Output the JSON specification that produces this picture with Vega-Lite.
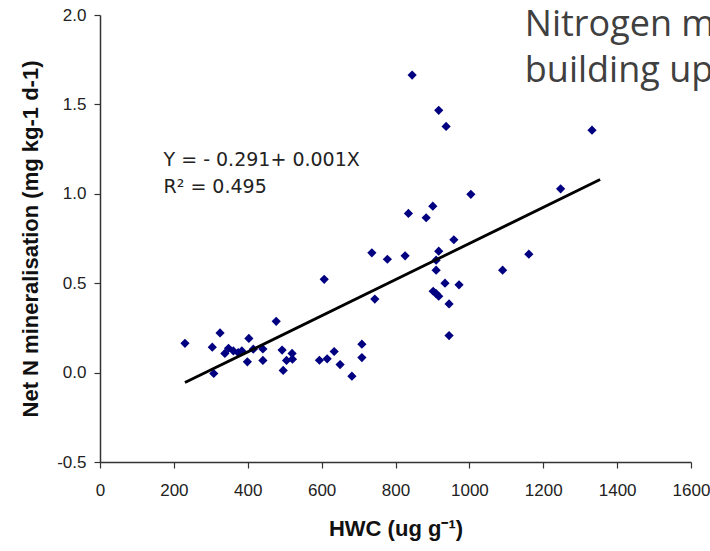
{
  "$schema": "https://vega.github.io/schema/vega-lite/v6.json",
  "autosize": "none",
  "width": 591,
  "height": 447,
  "padding": {"left": 100, "top": 15, "right": 19, "bottom": 89},
  "background": "white",
  "config": {"view": {"stroke": null}},
  "datasets": {
    "pts": [
      {"HWC": 230, "N": 0.164}, {"HWC": 304, "N": 0.142}, {"HWC": 325, "N": 0.222},
      {"HWC": 308, "N": -0.005}, {"HWC": 338, "N": 0.107}, {"HWC": 348, "N": 0.136},
      {"HWC": 361, "N": 0.121}, {"HWC": 374, "N": 0.112}, {"HWC": 384, "N": 0.121},
      {"HWC": 403, "N": 0.191}, {"HWC": 399, "N": 0.060}, {"HWC": 415, "N": 0.131},
      {"HWC": 441, "N": 0.132}, {"HWC": 441, "N": 0.068}, {"HWC": 477, "N": 0.287},
      {"HWC": 493, "N": 0.126}, {"HWC": 496, "N": 0.012}, {"HWC": 505, "N": 0.068},
      {"HWC": 520, "N": 0.107}, {"HWC": 521, "N": 0.075}, {"HWC": 594, "N": 0.069},
      {"HWC": 615, "N": 0.077}, {"HWC": 607, "N": 0.522}, {"HWC": 634, "N": 0.118},
      {"HWC": 650, "N": 0.045}, {"HWC": 682, "N": -0.020}, {"HWC": 709, "N": 0.159},
      {"HWC": 709, "N": 0.084}, {"HWC": 736, "N": 0.670}, {"HWC": 744, "N": 0.411},
      {"HWC": 778, "N": 0.634}, {"HWC": 845, "N": 1.664}, {"HWC": 917, "N": 1.467},
      {"HWC": 937, "N": 1.377}, {"HWC": 1332, "N": 1.356}, {"HWC": 1247, "N": 1.028},
      {"HWC": 1004, "N": 0.997}, {"HWC": 835, "N": 0.890}, {"HWC": 901, "N": 0.931},
      {"HWC": 883, "N": 0.866}, {"HWC": 958, "N": 0.743}, {"HWC": 917, "N": 0.679},
      {"HWC": 910, "N": 0.629}, {"HWC": 826, "N": 0.653}, {"HWC": 910, "N": 0.573},
      {"HWC": 1161, "N": 0.662}, {"HWC": 1090, "N": 0.573}, {"HWC": 934, "N": 0.500},
      {"HWC": 972, "N": 0.491}, {"HWC": 902, "N": 0.455}, {"HWC": 910, "N": 0.442},
      {"HWC": 917, "N": 0.427}, {"HWC": 945, "N": 0.384}, {"HWC": 945, "N": 0.207}
    ],
    "fit": [
      {"HWC": 230, "N": -0.056},
      {"HWC": 1354, "N": 1.080}
    ]
  },
  "layer": [
    {
      "data": {"name": "pts"},
      "mark": {"type": "point", "shape": "diamond", "filled": true, "size": 85, "color": "#000080", "opacity": 1},
      "encoding": {
        "x": {
          "field": "HWC", "type": "quantitative",
          "scale": {"domain": [0, 1600], "nice": false, "zero": false},
          "axis": {
            "title": "HWC (ug g⁻¹)",
            "values": [0, 200, 400, 600, 800, 1000, 1200, 1400, 1600],
            "format": "d",
            "grid": false,
            "domainColor": "#333333", "domainWidth": 1.5,
            "tickColor": "#333333", "tickSize": 6, "tickWidth": 1.2,
            "labelFont": "Liberation Sans", "labelFontSize": 17, "labelColor": "#222222",
            "labelPadding": 14, "labelFlush": false,
            "titleFont": "Liberation Sans", "titleFontSize": 22, "titleFontWeight": "bold",
            "titleColor": "#111111", "titlePadding": 20
          }
        },
        "y": {
          "field": "N", "type": "quantitative",
          "scale": {"domain": [-0.5, 2.0], "nice": false, "zero": false},
          "axis": {
            "title": "Net N mineralisation (mg kg-1 d-1)",
            "values": [-0.5, 0, 0.5, 1.0, 1.5, 2.0],
            "labelExpr": "datum.value < 0 ? '-' + format(-datum.value, '.1f') : format(datum.value, '.1f')",
            "grid": false,
            "domainColor": "#333333", "domainWidth": 1.5,
            "tickColor": "#333333", "tickSize": 6, "tickWidth": 1.2,
            "labelFont": "Liberation Sans", "labelFontSize": 17, "labelColor": "#222222",
            "labelPadding": 8,
            "titleFont": "Liberation Sans", "titleFontSize": 22, "titleFontWeight": "bold",
            "titleColor": "#111111", "titlePadding": 14
          }
        }
      }
    },
    {
      "data": {"name": "fit"},
      "mark": {"type": "line", "color": "#000000", "strokeWidth": 2.8},
      "encoding": {
        "x": {"field": "HWC", "type": "quantitative"},
        "y": {"field": "N", "type": "quantitative"}
      }
    },
    {
      "data": {"values": [{}]},
      "mark": {"type": "text", "align": "left", "baseline": "alphabetic", "font": "DejaVu Sans", "fontSize": 19, "color": "#222222"},
      "encoding": {
        "x": {"datum": 172},
        "y": {"datum": 1.155},
        "text": {"value": "Y = - 0.291+ 0.001X"}
      }
    },
    {
      "data": {"values": [{}]},
      "mark": {"type": "text", "align": "left", "baseline": "alphabetic", "font": "DejaVu Sans", "fontSize": 19, "color": "#222222"},
      "encoding": {
        "x": {"datum": 172},
        "y": {"datum": 1.002},
        "text": {"value": "R² = 0.495"}
      }
    },
    {
      "data": {"values": [{}]},
      "mark": {"type": "text", "align": "left", "baseline": "alphabetic", "font": "Open Sans", "fontSize": 36, "color": "#404040"},
      "encoding": {
        "x": {"datum": 1150},
        "y": {"datum": 1.8825},
        "text": {"value": "Nitrogen m"}
      }
    },
    {
      "data": {"values": [{}]},
      "mark": {"type": "text", "align": "left", "baseline": "alphabetic", "font": "Open Sans", "fontSize": 36, "color": "#404040"},
      "encoding": {
        "x": {"datum": 1150},
        "y": {"datum": 1.6267},
        "text": {"value": "building up"}
      }
    }
  ]
}
